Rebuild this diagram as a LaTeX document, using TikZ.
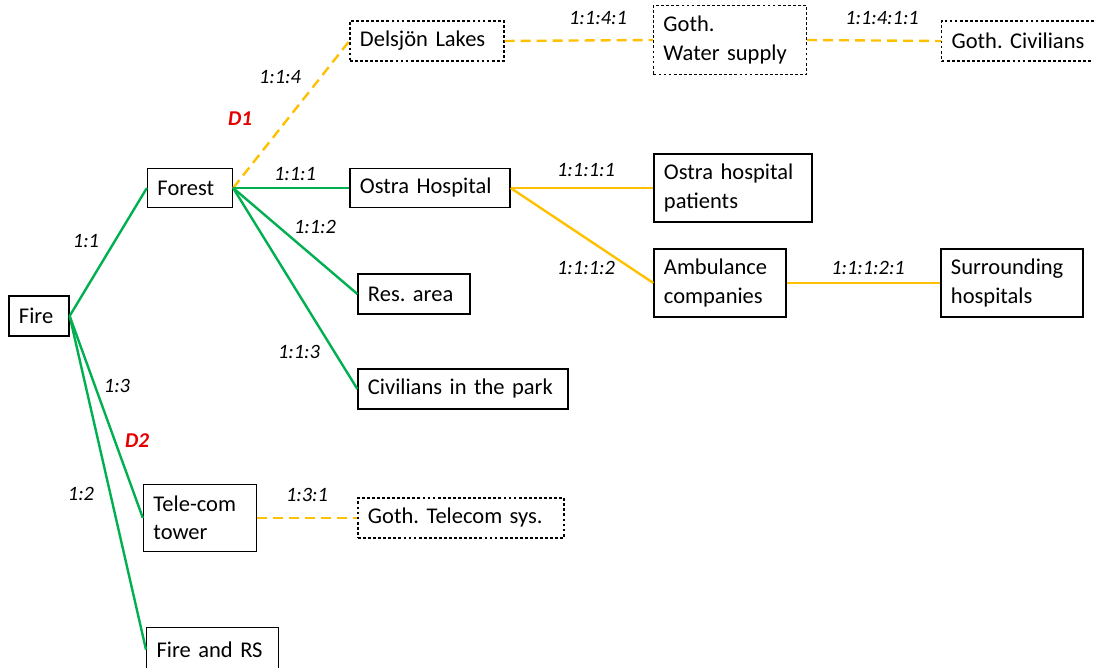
\documentclass[tikz,border=0pt]{standalone}
\usepackage{fontspec}
\setmainfont{Carlito}
\frenchspacing
\usetikzlibrary{positioning,calc}
\definecolor{gline}{RGB}{0,176,80}
\definecolor{oline}{RGB}{255,192,0}
\definecolor{dred}{RGB}{230,0,0}
\tikzset{
    box/.style={
        rectangle,
        draw=black,
        line width=0.9pt,
        fill=white,
        inner xsep=0.25cm,
        align=left,
        font=\fontsize{16}{20}\selectfont,
    },
    dbox/.style={
        box,
        dash pattern=on 2pt off 1.6pt,
    },
    lbl/.style={
        font=\fontsize{14.5}{16}\selectfont\itshape,
        inner sep=1pt,
    },
    dlbl/.style={
        font=\fontsize{15}{17}\selectfont\bfseries\itshape,
        text=dred,
        inner sep=1pt,
    },
    grn/.style={
        draw=gline,
        line width=1.7pt,
    },
    org/.style={
        draw=oline,
        line width=1.7pt,
    },
    orgd/.style={
        org,
        dash pattern=on 0.25cm off 0.15cm,
    },
}

\begin{document}
\begin{tikzpicture}[x=0.025cm,y=-0.025cm]
    \useasboundingbox (0,0) rectangle (1094,668);
    % nodes
    \node [box, text width=1.0cm, minimum height=1.0cm] at (39,316) (fire) {Fire};
    \node [box, text width=1.625cm, minimum height=0.975cm] at (190,188) (forest) {Forest};
    \node [box, text width=2.325cm, minimum height=1.675cm] at (200,518) (tower) {Tele-com\\tower};
    \node [box, text width=2.8cm, minimum height=1.1cm, anchor=north west] at (146,627) (firers) {Fire and RS};
    \node [dbox, text width=3.35cm, minimum height=1.0cm] at (427,41) (lakes) {Delsjön Lakes};
    \node [box, text width=3.5cm, minimum height=0.975cm] at (430,188) (ostra) {Ostra Hospital};
    \node [box, text width=2.3cm, minimum height=1.0cm] at (414,294) (resarea) {Res. area};
    \node [box, text width=4.75cm, minimum height=1.0cm] at (463,389) (park) {Civilians in the park};
    \node [dbox, text width=4.65cm, minimum height=1.0cm] at (461,518) (telecom) {Goth. Telecom sys.};
    \node [dbox, text width=3.325cm, minimum height=1.725cm] at (730,40) (water) {Goth.\\Water supply};
    \node [box, text width=3.45cm, minimum height=1.7cm] at (733,188) (patients) {Ostra hospital\\patients};
    \node [box, text width=2.8cm, minimum height=1.7cm] at (720,283) (ambul) {Ambulance\\companies};
    \node [dbox, text width=3.5cm, minimum height=1.0cm, anchor=west] at (941,41) (civil) {Goth. Civilians};
    \node [box, text width=3.05cm, minimum height=1.7cm] at (1012,283) (surround) {Surrounding\\hospitals};

    % connectors
    \draw [grn] (fire.east) -- (forest.west);
    \draw [grn] (fire.east) -- (tower.west);
    \draw [grn] (fire.east) -- (firers.west);
    \draw [orgd] (forest.east) -- (lakes.west);
    \draw [grn] (forest.east) -- (ostra.west);
    \draw [grn] (forest.east) -- (resarea.west);
    \draw [grn] (forest.east) -- (park.west);
    \draw [orgd] (lakes.east) -- (water.west);
    \draw [orgd] (water.east) -- (civil.west);
    \draw [org] (ostra.east) -- (patients.west);
    \draw [org] (ostra.east) -- (ambul.west);
    \draw [org] (ambul.east) -- (surround.west);
    \draw [orgd] (tower.east) -- (telecom.west);

    % labels
    \node [lbl] at (86,241) (l11) {1:1};
    \node [lbl] at (117,386) (l13) {1:3};
    \node [lbl] at (81,494) (l12) {1:2};
    \node [dlbl] at (137,441) (d2) {D2};
    \node [dlbl] at (240,119) (d1) {D1};
    \node [lbl] at (280,77) (l114) {1:1:4};
    \node [lbl] at (295,174) (l111) {1:1:1};
    \node [lbl] at (315,227) (l112) {1:1:2};
    \node [lbl] at (299,352) (l113) {1:1:3};
    \node [lbl] at (598,18) (l1141) {1:1:4:1};
    \node [lbl] at (882,18) (l11411) {1:1:4:1:1};
    \node [lbl] at (586,170) (l1111) {1:1:1:1};
    \node [lbl] at (586,268) (l1112) {1:1:1:2};
    \node [lbl] at (868,268) (l11121) {1:1:1:2:1};
    \node [lbl] at (307,495) (l131) {1:3:1};
\end{tikzpicture}
\end{document}
